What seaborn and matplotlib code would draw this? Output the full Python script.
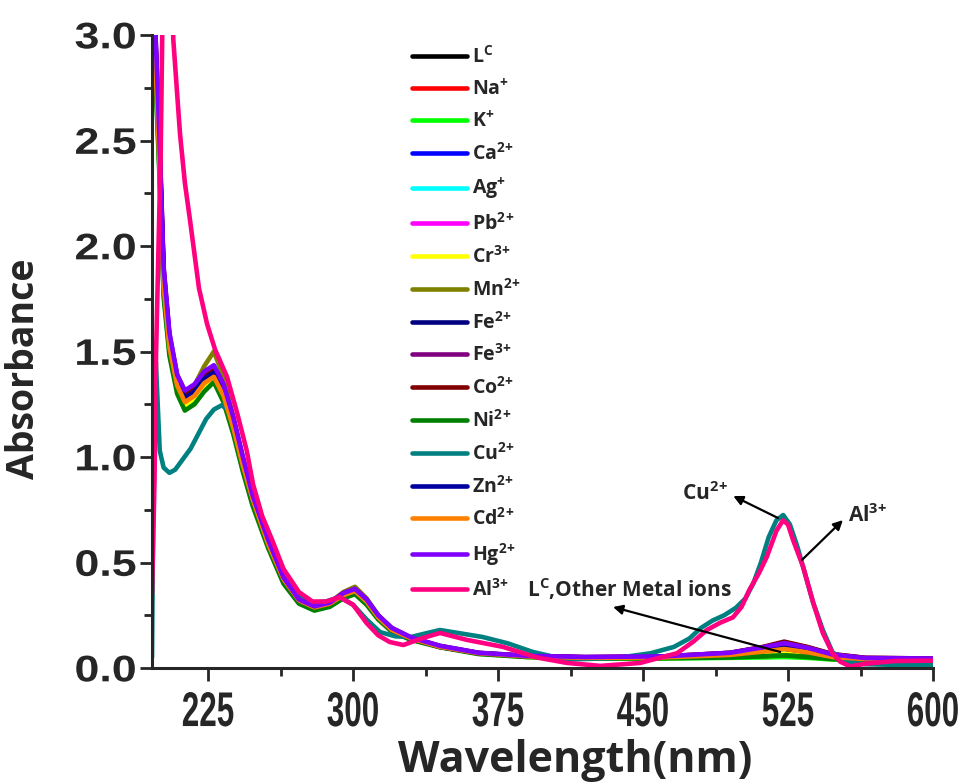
import matplotlib
matplotlib.use("Agg")
import matplotlib.pyplot as plt
from matplotlib import patheffects
from matplotlib.transforms import Affine2D
import pandas as pd
import seaborn as sns

# ---- spectra -------------------------------------------------------------
ions = ["L$^{C}$", "Na$^{+}$", "K$^{+}$", "Ca$^{2\\!+}$", "Ag$^{+}$", "Pb$^{2\\!+}$",
        "Cr$^{3\\!+}$", "Mn$^{2\\!+}$", "Fe$^{2\\!+}$", "Fe$^{3\\!+}$", "Co$^{2\\!+}$",
        "Ni$^{2\\!+}$", "Cu$^{2\\!+}$", "Zn$^{2\\!+}$", "Cd$^{2\\!+}$", "Hg$^{2\\!+}$", "Al$^{3\\!+}$"]

colors = ["#000000", "#ff0000", "#00ff00", "#0000ff", "#00ffff", "#ff00ff",
          "#ffff00", "#808000", "#000080", "#800080", "#800000", "#008000",
          "#008080", "#0000a0", "#ff8000", "#8000ff", "#ff0080"]

# common wavelength grid for the ions that leave the ligand spectrum unchanged
wl_common = [196, 198, 200, 202, 205, 209, 213, 218, 223, 228, 233, 238, 243, 248,
             256, 264, 272, 280, 288, 295, 301, 307, 313, 320, 330, 345, 365, 390,
             420, 460, 495, 512, 523, 535, 548, 565, 600]

abs_LC = [3.25, 2.80, 2.35, 1.80, 1.52, 1.34, 1.26, 1.29, 1.35, 1.37, 1.28, 1.14, 0.96, 0.79,
          0.59, 0.42, 0.32, 0.285, 0.30, 0.34, 0.36, 0.31, 0.24, 0.18, 0.14, 0.10, 0.07, 0.055,
          0.048, 0.05, 0.062, 0.075, 0.085, 0.07, 0.05, 0.04, 0.038]
abs_Na = [3.30, 2.85, 2.38, 1.82, 1.53, 1.35, 1.27, 1.30, 1.36, 1.38, 1.29, 1.15, 0.96, 0.80,
          0.59, 0.42, 0.32, 0.288, 0.305, 0.345, 0.365, 0.315, 0.24, 0.18, 0.14, 0.10, 0.07, 0.055,
          0.048, 0.05, 0.06, 0.07, 0.08, 0.068, 0.05, 0.04, 0.038]
abs_K = [3.20, 2.78, 2.32, 1.78, 1.50, 1.32, 1.24, 1.27, 1.33, 1.36, 1.27, 1.13, 0.95, 0.79,
         0.58, 0.41, 0.31, 0.28, 0.295, 0.335, 0.355, 0.305, 0.235, 0.175, 0.135, 0.10, 0.068, 0.052,
         0.045, 0.045, 0.048, 0.05, 0.052, 0.048, 0.04, 0.035, 0.032]
abs_Ca = [3.35, 2.90, 2.42, 1.86, 1.56, 1.37, 1.28, 1.31, 1.37, 1.40, 1.31, 1.16, 0.97, 0.81,
          0.60, 0.42, 0.32, 0.29, 0.305, 0.35, 0.37, 0.32, 0.245, 0.18, 0.14, 0.10, 0.07, 0.055,
          0.05, 0.052, 0.065, 0.082, 0.095, 0.078, 0.055, 0.042, 0.04]
abs_Ag = [3.28, 2.82, 2.36, 1.81, 1.52, 1.34, 1.26, 1.29, 1.35, 1.37, 1.28, 1.14, 0.96, 0.79,
          0.59, 0.42, 0.32, 0.286, 0.30, 0.34, 0.36, 0.31, 0.24, 0.18, 0.14, 0.10, 0.07, 0.055,
          0.048, 0.05, 0.06, 0.07, 0.078, 0.066, 0.05, 0.04, 0.038]
abs_Pb = [3.35, 2.92, 2.44, 1.88, 1.57, 1.38, 1.29, 1.32, 1.38, 1.41, 1.32, 1.17, 0.98, 0.81,
          0.60, 0.43, 0.325, 0.29, 0.305, 0.35, 0.37, 0.32, 0.245, 0.185, 0.14, 0.10, 0.07, 0.056,
          0.05, 0.053, 0.068, 0.09, 0.108, 0.09, 0.06, 0.045, 0.042]
abs_Cr = [3.22, 2.78, 2.33, 1.79, 1.51, 1.33, 1.245, 1.28, 1.34, 1.37, 1.28, 1.14, 0.95, 0.79,
          0.58, 0.41, 0.315, 0.282, 0.30, 0.34, 0.36, 0.31, 0.24, 0.18, 0.14, 0.10, 0.068, 0.053,
          0.046, 0.048, 0.055, 0.062, 0.068, 0.058, 0.045, 0.038, 0.036]
abs_Mn = [3.30, 2.88, 2.42, 1.86, 1.55, 1.36, 1.29, 1.34, 1.43, 1.50, 1.38, 1.19, 0.98, 0.80,
          0.59, 0.42, 0.32, 0.29, 0.31, 0.36, 0.385, 0.33, 0.25, 0.185, 0.14, 0.10, 0.07, 0.054,
          0.047, 0.048, 0.052, 0.056, 0.06, 0.055, 0.045, 0.038, 0.036]
abs_Fe2 = [3.32, 2.88, 2.40, 1.84, 1.55, 1.36, 1.275, 1.30, 1.36, 1.39, 1.30, 1.15, 0.97, 0.80,
           0.59, 0.42, 0.32, 0.288, 0.305, 0.345, 0.365, 0.315, 0.24, 0.18, 0.14, 0.10, 0.07, 0.055,
           0.049, 0.052, 0.065, 0.08, 0.092, 0.076, 0.054, 0.042, 0.04]
abs_Fe3 = [3.40, 2.95, 2.47, 1.90, 1.58, 1.39, 1.31, 1.34, 1.40, 1.43, 1.34, 1.19, 1.00, 0.82,
           0.61, 0.43, 0.325, 0.292, 0.31, 0.355, 0.375, 0.325, 0.25, 0.19, 0.145, 0.105, 0.072, 0.058,
           0.052, 0.055, 0.072, 0.098, 0.12, 0.098, 0.065, 0.048, 0.045]
abs_Co = [3.38, 2.93, 2.45, 1.88, 1.57, 1.38, 1.30, 1.33, 1.39, 1.42, 1.33, 1.18, 0.99, 0.81,
          0.60, 0.43, 0.322, 0.29, 0.308, 0.35, 0.37, 0.32, 0.245, 0.185, 0.142, 0.103, 0.071, 0.057,
          0.051, 0.054, 0.072, 0.10, 0.125, 0.10, 0.066, 0.048, 0.045]
abs_Ni = [3.18, 2.75, 2.30, 1.76, 1.48, 1.30, 1.22, 1.25, 1.31, 1.355, 1.26, 1.11, 0.93, 0.77,
          0.57, 0.40, 0.305, 0.272, 0.29, 0.33, 0.35, 0.30, 0.23, 0.172, 0.133, 0.098, 0.066, 0.052,
          0.045, 0.046, 0.05, 0.055, 0.06, 0.052, 0.042, 0.036, 0.034]
abs_Zn = [3.34, 2.90, 2.42, 1.86, 1.56, 1.37, 1.28, 1.31, 1.37, 1.40, 1.31, 1.16, 0.97, 0.80,
          0.60, 0.42, 0.32, 0.29, 0.305, 0.35, 0.37, 0.32, 0.245, 0.18, 0.14, 0.10, 0.07, 0.055,
          0.05, 0.052, 0.066, 0.084, 0.098, 0.08, 0.056, 0.043, 0.04]
abs_Cd = [3.26, 2.82, 2.36, 1.81, 1.52, 1.34, 1.26, 1.29, 1.35, 1.38, 1.29, 1.14, 0.96, 0.80,
          0.59, 0.42, 0.32, 0.287, 0.305, 0.345, 0.365, 0.315, 0.24, 0.18, 0.14, 0.10, 0.07, 0.055,
          0.048, 0.05, 0.062, 0.078, 0.09, 0.075, 0.052, 0.042, 0.04]
abs_Hg = [3.40, 2.96, 2.48, 1.90, 1.59, 1.39, 1.315, 1.345, 1.405, 1.435, 1.345, 1.19, 1.00, 0.82,
          0.61, 0.43, 0.325, 0.292, 0.31, 0.355, 0.375, 0.325, 0.25, 0.19, 0.145, 0.105, 0.072, 0.058,
          0.052, 0.055, 0.072, 0.098, 0.118, 0.096, 0.064, 0.047, 0.045]

# Cu2+ complex
wl_Cu = [196, 197, 198, 200, 202, 205, 208, 212, 216, 220, 224, 228, 232, 236, 240, 245, 250,
         257, 264, 272, 279, 286, 293, 300, 307, 314, 322, 330, 338, 345, 355, 367, 380, 393,
         410, 436, 454, 466, 474, 480, 486, 492, 498, 503, 507, 511, 515, 519, 522.5, 526,
         530, 534, 538, 543, 548, 555, 565, 580, 600]
abs_Cu = [0.05, 1.20, 1.45, 1.03, 0.95, 0.925, 0.94, 0.99, 1.04, 1.11, 1.18, 1.225, 1.245, 1.22,
          1.08, 0.905, 0.77, 0.58, 0.43, 0.34, 0.31, 0.315, 0.336, 0.30, 0.23, 0.17, 0.15, 0.147,
          0.165, 0.18, 0.165, 0.147, 0.117, 0.076, 0.04, 0.047, 0.07, 0.10, 0.14, 0.19, 0.225,
          0.25, 0.285, 0.33, 0.40, 0.50, 0.62, 0.70, 0.725, 0.68, 0.57, 0.44, 0.31, 0.18, 0.075,
          0.03, 0.018, 0.015, 0.015]

# Al3+ complex
wl_Al = [196, 197.3, 198.1, 199.3, 200.5, 201.3, 202.5, 205, 206.3, 207, 210.5, 213, 215.7,
         220.3, 224.5, 228.6, 234.8, 240, 245, 248.3, 253, 258, 264, 272, 279, 286, 293, 300,
         307, 313, 319, 326, 336, 345, 359, 377.6, 395, 410.7, 428, 448.5, 467.6, 476, 483,
         490, 496.5, 501, 505, 510, 514, 519, 522.4, 525, 527.6, 532.8, 538, 543, 548, 552,
         557, 565, 580, 600]
abs_Al = [0.35, 0.89, 1.49, 1.97, 2.44, 3.0, 3.5, 3.6, 3.3, 2.98, 2.53, 2.3, 2.12, 1.80, 1.63,
          1.51, 1.38, 1.21, 1.03, 0.87, 0.72, 0.61, 0.47, 0.36, 0.315, 0.315, 0.336, 0.30, 0.213,
          0.155, 0.123, 0.109, 0.142, 0.166, 0.133, 0.10, 0.05, 0.024, 0.01, 0.024, 0.07, 0.125,
          0.18, 0.215, 0.24, 0.29, 0.37, 0.45, 0.526, 0.65, 0.70, 0.68, 0.607, 0.48, 0.31, 0.166,
          0.07, 0.03, 0.008, 0.02, 0.033, 0.035]

series_values = [abs_LC, abs_Na, abs_K, abs_Ca, abs_Ag, abs_Pb, abs_Cr, abs_Mn, abs_Fe2,
                 abs_Fe3, abs_Co, abs_Ni, abs_Cu, abs_Zn, abs_Cd, abs_Hg, abs_Al]
series_grids = [wl_common] * 12 + [wl_Cu] + [wl_common] * 3 + [wl_Al]

x_ticks = [225, 300, 375, 450, 525, 600]
x_minor = [262.5, 337.5, 412.5, 487.5, 562.5]
y_ticks = [0.0, 0.5, 1.0, 1.5, 2.0, 2.5, 3.0]
y_minor = [0.25, 0.75, 1.25, 1.75, 2.25, 2.75]

df = pd.concat([pd.DataFrame({"wavelength": w, "absorbance": a, "ion": name})
                for name, w, a in zip(ions, series_grids, series_values)], ignore_index=True)


class Stretch(patheffects.AbstractPathEffect):
    """Scale glyph outlines horizontally/vertically (condensed or widened lettering)."""

    def __init__(self, sx=1.0, sy=1.0, anchor="center"):
        super().__init__()
        self.sx, self.sy, self.anchor = sx, sy, anchor

    def draw_path(self, renderer, gc, tpath, affine, rgbFace=None):
        ext = tpath.get_extents()
        cx = 0.5 * (ext.x0 + ext.x1)
        cy = ext.y1 if self.anchor == "top" else 0.5 * (ext.y0 + ext.y1)
        t = Affine2D().translate(-cx, -cy).scale(self.sx, self.sy).translate(cx, cy) + affine
        renderer.draw_path(gc, tpath, t, rgbFace)


# ---- style ---------------------------------------------------------------
sns.set_style("ticks")
plt.rcParams["font.family"] = ["Open Sans", "DejaVu Sans"]
plt.rcParams["mathtext.fontset"] = "custom"
plt.rcParams["mathtext.rm"] = "Open Sans:bold"
plt.rcParams["mathtext.it"] = "Open Sans:bold"
plt.rcParams["mathtext.bf"] = "Open Sans:bold"
plt.rcParams["mathtext.sf"] = "Open Sans:bold"

fig, ax = plt.subplots(figsize=(9.74, 7.82), dpi=100)
fig.subplots_adjust(left=152 / 974, right=933 / 974, bottom=1 - 668 / 782, top=1 - 35 / 782)

sns.lineplot(data=df, x="wavelength", y="absorbance", hue="ion", hue_order=ions,
             palette=colors, estimator=None, sort=False, linewidth=3.3,
             solid_joinstyle="round", solid_capstyle="round", ax=ax)

ax.set_xlim(196, 600)
ax.set_ylim(0, 3.0)
ax.set_xticks(x_ticks)
ax.set_xticks(x_minor, minor=True)
ax.set_yticks(y_ticks)
ax.set_yticks(y_minor, minor=True)
ax.set_yticklabels([f"{v:.1f}" for v in y_ticks],
                   fontdict=dict(family=["Liberation Sans", "DejaVu Sans"], weight="bold", size=28))
ax.set_xticklabels([str(v) for v in x_ticks],
                   fontdict=dict(family=["Liberation Sans", "DejaVu Sans"], weight="bold", size=26))

for side in ("top", "right"):
    ax.spines[side].set_visible(False)
for side in ("left", "bottom"):
    ax.spines[side].set_linewidth(2.2)
ax.tick_params(which="major", direction="out", length=9, width=2.0)
ax.tick_params(which="minor", direction="out", length=5.5, width=2.0)
ax.tick_params(axis="y", which="major", pad=5)
ax.tick_params(axis="x", which="major", pad=7)

ax.set_xlabel("Wavelength(nm)", fontsize=31, fontweight="bold", family="Open Sans")
ax.set_ylabel("Absorbance", fontsize=27, fontweight="bold", family="Open Sans")
ax.xaxis.set_label_coords(0.5416, -0.112)
ax.yaxis.set_label_coords(-0.14, 0.472)

handles, labels = ax.get_legend_handles_labels()
for h in handles:
    h.set_linewidth(3.3)
ax.legend(handles, labels, loc="upper left", bbox_to_anchor=(412 / 974, 1 - 46 / 782),
          bbox_transform=fig.transFigure, frameon=False,
          prop=dict(family="Open Sans", weight="bold", size=14),
          handlelength=2.85, handletextpad=0.25, labelspacing=0.56,
          borderpad=0, borderaxespad=0)

arrow = dict(arrowstyle="-|>", color="black", lw=1.6, mutation_scale=14, shrinkA=0, shrinkB=0)
txt = dict(family="Open Sans", weight="bold", size=15)

ax.annotate("", xy=(496.7, 0.815), xytext=(519.8, 0.711), arrowprops=arrow)
ax.text(482, 0.796, "Cu$^{2\\!+}$", ha="center", va="baseline", **txt)

ax.annotate("", xy=(553.4, 0.701), xytext=(532.2, 0.512), arrowprops=arrow)
ax.text(556, 0.692, "Al$^{3\\!+}$", ha="left", va="baseline", **txt)

ax.annotate("", xy=(434.5, 0.289), xytext=(520.9, 0.076), arrowprops=arrow)
ax.text(390, 0.336, "L$^{C}$,Other Metal ions", ha="left", va="baseline", **txt)

# condensed, tall numerals on the wavelength axis; wide heavy numerals on the absorbance axis
for lbl in ax.get_xticklabels():
    lbl.set_path_effects([Stretch(0.87, 1.35, anchor="top")])
for lbl in ax.get_yticklabels():
    lbl.set_path_effects([Stretch(1.15, 0.95)])

fig.savefig("out.png", dpi=100)
